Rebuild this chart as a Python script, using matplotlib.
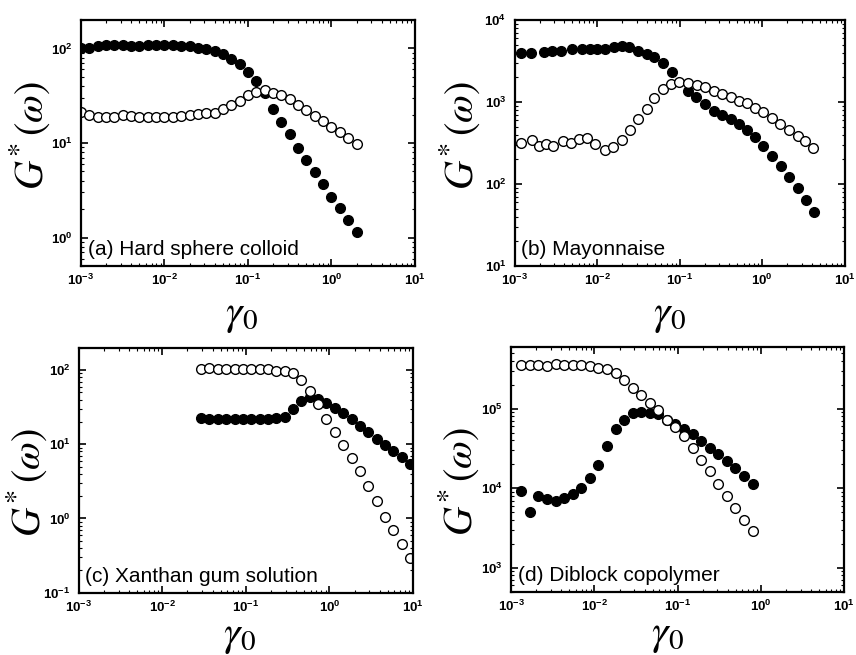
import matplotlib
matplotlib.use("Agg")
import matplotlib.pyplot as plt
from matplotlib.ticker import LogLocator, NullFormatter

plt.rcParams['mathtext.fontset'] = 'stix'

# (a) hard sphere colloid
xa = [0.001, 0.001259, 0.001585, 0.001995, 0.002512, 0.003162, 0.003981, 0.005012,
      0.00631, 0.007943, 0.01, 0.01259, 0.01585, 0.01995, 0.02512, 0.03162, 0.03981,
      0.05012, 0.0631, 0.07943, 0.1, 0.1259, 0.1585, 0.1995, 0.2512, 0.3162, 0.3981,
      0.5012, 0.631, 0.7943, 1.0, 1.259, 1.585, 1.995]
ga_filled = [100, 102, 105, 108, 110, 108, 106, 106, 108, 108, 108, 108, 106, 105, 102,
             99, 95, 87, 78, 68, 56, 45, 34, 23, 16.6, 12.5, 8.9, 6.6, 4.95, 3.65, 2.7,
             2.04, 1.53, 1.14]
ga_open = [21.5, 20, 19, 19, 19, 20, 19.5, 19, 19, 19, 19, 19, 19.5, 20, 20.5, 21,
           21, 23, 25, 28, 32, 35, 36, 34, 32, 29, 25.5, 22.4, 19.5, 17, 14.7, 13,
           11.4, 9.7]

# (b) mayonnaise
xb_filled = [0.0012, 0.00158, 0.00229, 0.00282, 0.00363, 0.0049, 0.0066, 0.0081, 0.01,
             0.0126, 0.0158, 0.02, 0.024, 0.0309, 0.0398, 0.049, 0.063, 0.081, 0.126,
             0.158, 0.204, 0.263, 0.324, 0.417, 0.525, 0.646, 0.813, 1.02, 1.32, 1.70,
             2.14, 2.69, 3.39, 4.27]
gb_filled = [3930, 3980, 4100, 4230, 4230, 4400, 4400, 4400, 4400, 4470, 4650, 4820,
             4650, 4230, 3850, 3560, 2950, 2320, 1375, 1140, 937, 783, 693, 615, 535,
             456, 378, 293, 221, 166, 123, 89, 64, 46]
xb_open = [0.0012, 0.00162, 0.00195, 0.0024, 0.00295, 0.0038, 0.00479, 0.006, 0.0076,
           0.0095, 0.0123, 0.0155, 0.02, 0.0251, 0.0316, 0.0398, 0.049, 0.063, 0.0794,
           0.0977, 0.126, 0.162, 0.204, 0.257, 0.324, 0.417, 0.525, 0.646, 0.813, 1.02,
           1.32, 1.66, 2.09, 2.69, 3.31, 4.17]
gb_open = [319, 344, 291, 307, 291, 337, 319, 356, 367, 305, 260, 280, 344, 456, 615,
           815, 1110, 1430, 1640, 1770, 1690, 1610, 1510, 1375, 1250, 1140, 1040, 964,
           852, 762, 631, 539, 456, 385, 337, 278]

# (c) xanthan gum solution
xc = [0.02917, 0.03673, 0.04624, 0.05821, 0.07328, 0.09226, 0.1161, 0.1462, 0.1841,
      0.2317, 0.2917, 0.3673, 0.4624, 0.5821, 0.7328, 0.9226, 1.161, 1.462, 1.841,
      2.317, 2.917, 3.673, 4.624, 5.821, 7.328, 9.226]
gc_filled = [22.5, 22, 22, 22, 22, 22, 22, 22, 22, 22.5, 23.5, 29.5, 38, 44, 41, 36.5,
             31, 26.5, 22.2, 17.8, 14.6, 11.9, 9.8, 8.0, 6.8, 5.5]
gc_open = [105, 108, 105, 105, 105, 105, 103, 103, 103, 98, 97, 90, 73, 52, 34.7, 21.8,
           14.8, 9.8, 6.5, 4.4, 2.7, 1.7, 1.05, 0.69, 0.46, 0.295]

# (d) diblock copolymer
xd = [0.001318, 0.001671, 0.002118, 0.002685, 0.003404, 0.004315, 0.00547, 0.006934,
      0.00879, 0.01114, 0.01413, 0.01791, 0.0227, 0.02877, 0.03648, 0.04624, 0.05861,
      0.0743, 0.09419, 0.1194, 0.1514, 0.1919, 0.2432, 0.3083, 0.3908, 0.4955, 0.6281,
      0.7962]
gd_filled = [9100, 5000, 7900, 7400, 6900, 7500, 8500, 10000, 13400, 19400, 33900, 55000,
             73000, 88000, 92000, 88500, 84500, 73000, 64000, 56000, 48500, 39100, 31900,
             26600, 21900, 17900, 14200, 11200]
gd_open = [351000, 351000, 351000, 343000, 360000, 351000, 351000, 351000, 343000,
           328000, 312000, 284000, 227000, 182000, 147000, 118000, 95000, 73000, 58800,
           44900, 31900, 22800, 16300, 11200, 7900, 5600, 4000, 2860]

panels = [
    ("(a) Hard sphere colloid", xa, ga_filled, xa, ga_open, (0.5, 200)),
    ("(b) Mayonnaise", xb_filled, gb_filled, xb_open, gb_open, (10, 1e4)),
    ("(c) Xanthan gum solution", xc, gc_filled, xc, gc_open, (0.1, 200)),
    ("(d) Diblock copolymer", xd, gd_filled, xd, gd_open, (500, 6e5)),
]
boxes = [
    [0.0946, 0.5939, 0.3902, 0.3756],
    [0.6013, 0.5939, 0.3855, 0.3756],
    [0.0919, 0.0951, 0.3905, 0.3740],
    [0.5973, 0.0966, 0.3887, 0.3740],
]
# y-label anchor (axes coords) and x-label anchor
ylab_pos = [(-0.088, 0.53), (-0.098, 0.53), (-0.088, 0.45), (-0.09, 0.45)]
xlab_pos = [(0.48, -0.11), (0.47, -0.11), (0.48, -0.085), (0.47, -0.085)]

fig = plt.figure(figsize=(8.56, 6.55), dpi=100)

for i, (label, xf, yf, xo, yo, ylim) in enumerate(panels):
    ax = fig.add_axes(boxes[i])
    ax.plot(xf, yf, 'o', color='black', ms=7, mec='black')
    ax.plot(xo, yo, 'o', mfc='white', mec='black', ms=7, mew=1.0)
    ax.set_xscale('log')
    ax.set_yscale('log')
    ax.set_xlim(1e-3, 1e1)
    ax.set_ylim(*ylim)
    ax.xaxis.set_major_locator(LogLocator(base=10, numticks=10))
    ax.xaxis.set_minor_locator(LogLocator(base=10, subs=range(2, 10), numticks=20))
    ax.xaxis.set_minor_formatter(NullFormatter())
    ax.yaxis.set_minor_formatter(NullFormatter())
    ax.tick_params(which='both', direction='in', top=True, right=True)
    ax.tick_params(which='major', length=5, width=1.2, labelsize=9.5)
    ax.tick_params(axis='x', which='major', pad=5)
    ax.tick_params(axis='y', which='major', pad=6)
    ax.tick_params(which='minor', length=2.5, width=0.8)
    for t in ax.get_xticklabels() + ax.get_yticklabels():
        t.set_fontweight('bold')
        t.set_family('Liberation Sans')
    for s in ax.spines.values():
        s.set_linewidth(1.6)
    ax.set_ylabel(r'$G^{*}\,(\omega)$', fontsize=29)
    ax.yaxis.set_label_coords(*ylab_pos[i])
    ax.set_xlabel(r'$\gamma_0$', fontsize=30, va='top')
    ax.xaxis.set_label_coords(*xlab_pos[i])
    ax.text(0.02, 0.045, label, transform=ax.transAxes, fontsize=15,
            family='Liberation Sans', va='baseline')

fig.savefig('out.png', dpi=100)
